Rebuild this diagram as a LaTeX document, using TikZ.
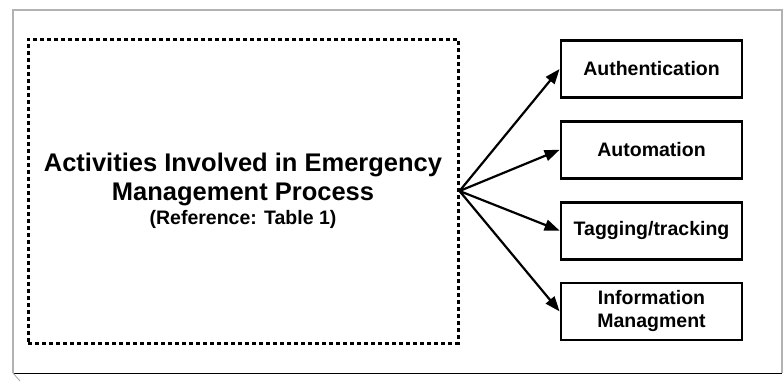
\documentclass[tikz,border=0pt]{standalone}
\usepackage{fontspec}
\setmainfont{Liberation Sans}
\usetikzlibrary{positioning, arrows.meta}

\begin{document}
\begin{tikzpicture}[x=1pt, y=-1pt, node distance=21pt,
    item/.style={draw, line width=2.8pt, minimum width=181pt, minimum height=57pt, inner sep=2pt, align=center, font=\bfseries\fontsize{19.5}{23}\selectfont},
    group/.style={draw, line width=3pt, dash pattern=on 4pt off 3pt, minimum width=430pt, minimum height=304pt, inner sep=0pt, align=center, font=\bfseries\fontsize{25.5}{30}\selectfont},
    link/.style={line width=2.2pt, -{Triangle[length=15pt, width=11pt]}}]
    \useasboundingbox (0,0) rectangle (783,381);

    % page frame
    \draw[gray!60, line width=1.2pt] (13,373) -- (13,10) -- (782,10) -- (782,373);
    \draw[line width=1pt] (13,373) -- (782,373);
    \draw[gray!60, line width=1pt] (13,373) -- (20,381);

    % activities and the four areas
    \node[group] (act) at (243,191) {Activities Involved in Emergency\\[-1pt]
        Management Process\\[-6pt]
        {\fontsize{19.5}{23}\selectfont (Reference: Table 1)}};
    \node[item] (auth) at (651.5,69) {Authentication};
    \node[item] (auto) [below=of auth] {Automation};
    \node[item] (tag)  [below=of auto] {Tagging/tracking};
    \node[item] (info) [below=of tag]  {Information\\Managment};

    \foreach \n in {auth, auto, tag, info}
        \draw[link] (act.east) -- (\n.west);
\end{tikzpicture}
\end{document}
